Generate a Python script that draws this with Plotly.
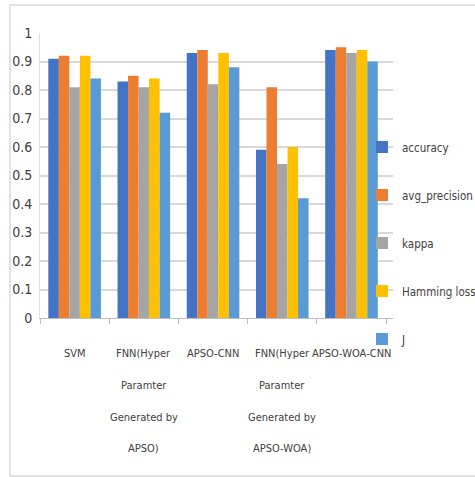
import plotly.graph_objects as go

categories = ["SVM", "FNN(APSO)", "APSO-CNN", "FNN(APSO-WOA)", "APSO-WOA-CNN"]
tick_label_lines = [
    ["SVM"],
    ["FNN(Hyper", "Paramter", "Generated by", "APSO)"],
    ["APSO-CNN"],
    ["FNN(Hyper", "Paramter", "Generated by", "APSO-WOA)"],
    ["APSO-WOA-CNN"],
]
series_names = ["accuracy", "avg_precision", "kappa", "Hamming loss", "J"]
accuracy = [0.91, 0.83, 0.93, 0.59, 0.94]
avg_precision = [0.92, 0.85, 0.94, 0.81, 0.95]
kappa = [0.81, 0.81, 0.82, 0.54, 0.93]
hamming_loss = [0.92, 0.84, 0.93, 0.60, 0.94]
J = [0.84, 0.72, 0.88, 0.42, 0.90]
colors = ["#4472C4", "#ED7D31", "#A5A5A5", "#FFC000", "#5B9BD5"]

FONT = "DejaVu Sans Condensed, Liberation Sans Narrow, Liberation Sans, Arial, sans-serif"

fig = go.Figure()
for i, (name, vals) in enumerate(zip(series_names, [accuracy, avg_precision, kappa, hamming_loss, J])):
    fig.add_trace(go.Bar(x=categories, y=vals, name=name, marker_color=colors[i],
                         marker_line_width=0, legendgroup=name))

L, R, T, B = 40, 82, 33, 159
W, H = 475, 477
pw = W - L - R
ph = H - T - B

fig.update_layout(
    width=W, height=H,
    margin=dict(l=L, r=R, t=T, b=B, pad=0, autoexpand=False),
    paper_bgcolor="white", plot_bgcolor="white",
    font=dict(family=FONT, size=13, color="#404040"),
    barmode="group", bargap=0.24, bargroupgap=0,
    showlegend=True,
    legend=dict(x=(362 - L) / pw, xanchor="left", y=(318 - 243) / ph, yanchor="middle",
                font=dict(size=11.5, color="#404040"), tracegroupgap=29,
                itemwidth=30, bgcolor="rgba(0,0,0,0)"),
    xaxis=dict(type="category", showgrid=False, showline=True, linecolor="#BFBFBF", linewidth=1,
               ticks="outside", tickson="boundaries", ticklen=5, tickcolor="#BFBFBF",
               showticklabels=False),
    yaxis=dict(range=[0, 1], dtick=0.1, showgrid=True, gridcolor="#D9D9D9", gridwidth=1.5,
               zeroline=False, showline=True, linecolor="#E0E0E0", linewidth=1,
               tickfont=dict(size=14, color="#404040"), ticklabelstandoff=4),
)

# multi-line category labels below the axis
line_px = [353, 385, 417, 448]
for cat, lines in zip(categories, tick_label_lines):
    for j, txt in enumerate(lines):
        fig.add_annotation(x=cat, xref="x", y=(T + ph - line_px[j]) / ph, yref="paper",
                           text=txt, showarrow=False, xanchor="center", yanchor="middle",
                           font=dict(size=11, color="#404040", family=FONT))

# outer chart border
fig.add_shape(type="rect", xref="paper", yref="paper",
              x0=(10 - L) / pw, x1=(W + 5 - L) / pw,
              y0=(T + ph - 476) / ph, y1=(T + ph - 5) / ph,
              line=dict(color="#D9D9D9", width=1.5), layer="below")

fig.write_html("out.html")
